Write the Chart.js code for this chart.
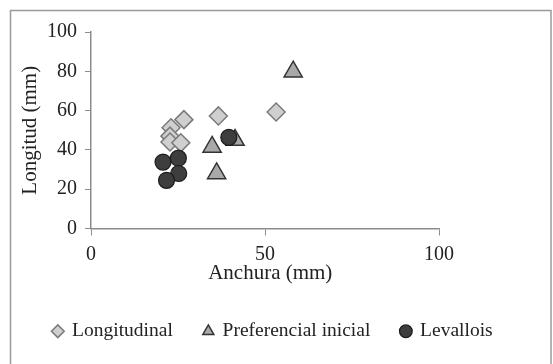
<!DOCTYPE html>
<html>
<head>
<meta charset="utf-8">
<script src="https://cdn.jsdelivr.net/npm/chart.js@4.4.1/dist/chart.umd.min.js"></script>
<style>
  html, body { margin: 0; padding: 0; background: #fff; }
  #wrap { position: relative; width: 553px; height: 364px; }
</style>
</head>
<body>
<div id="wrap"><canvas id="grafico"></canvas></div>
<script>
// datos (Anchura, Longitud en mm)
const longitudinalX = [26.7, 23.0, 22.7, 22.7, 25.8, 36.6, 53.2];
const longitudinalY = [55.4, 51.3, 47.0, 44.0, 43.6, 57.3, 59.3];

const preferencialX = [58.1, 34.8, 36.1, 41.4];
const preferencialY = [79.8, 41.5, 28.0, 45.0];

const levalloisX = [39.6, 20.7, 25.1, 25.2, 21.7];
const levalloisY = [46.4, 33.8, 35.8, 28.0, 24.5];

const ticksX = [0, 50, 100];
const ticksY = [0, 20, 40, 60, 80, 100];

function puntos(xs, ys) {
  return xs.map((x, i) => ({ x: x, y: ys[i] }));
}

const serif = "'Liberation Serif', 'Times New Roman', serif";
const gris = "#8c8c8c";

// marco exterior del gráfico
const marco = {
  id: "marco",
  beforeDraw(chart) {
    const ctx = chart.ctx;
    ctx.save();
    ctx.fillStyle = "#ffffff";
    ctx.fillRect(0, 0, chart.width, chart.height);
    ctx.strokeStyle = "#9a9a9a";
    ctx.lineWidth = 1.5;
    ctx.strokeRect(10.5, 10.5, 540.5, 400);
    ctx.restore();
  },
};

const ctx = document.getElementById("grafico").getContext("2d");
const grafico = new Chart(ctx, {
  type: "scatter",
  data: {
    datasets: [
      {
        label: "Longitudinal",
        data: puntos(longitudinalX, longitudinalY),
        pointStyle: "rectRot",
        pointRadius: 9,
        pointHoverRadius: 9,
        backgroundColor: "#cfcfcf",
        borderColor: "#7a7a7a",
        borderWidth: 1.5,
        order: 2,
      },
      {
        label: "Preferencial inicial",
        data: puntos(preferencialX, preferencialY),
        pointStyle: "triangle",
        pointRadius: 10.5,
        pointHoverRadius: 10.5,
        backgroundColor: "#a9a9a9",
        borderColor: "#333333",
        borderWidth: 1.5,
        order: 1,
      },
      {
        label: "Levallois",
        data: puntos(levalloisX, levalloisY),
        pointStyle: "circle",
        pointRadius: 8,
        pointHoverRadius: 8,
        backgroundColor: "#3e3e3e",
        borderColor: "#1c1c1c",
        borderWidth: 1.2,
        order: 0,
      },
    ],
  },
  options: {
    responsive: true,
    maintainAspectRatio: false,
    animation: false,
    layout: {
      padding: { top: 32, left: 0, right: 7, bottom: 13 },
    },
    plugins: {
      tooltip: { enabled: false },
      legend: {
        position: "bottom",
        labels: {
          usePointStyle: true,
          boxWidth: 9,
          boxHeight: 9,
          padding: 31,
          color: "#222",
          font: { family: serif, size: 19.5 },
          sort: (a, b) => a.datasetIndex - b.datasetIndex,
        },
      },
    },
    scales: {
      x: {
        type: "linear",
        min: 0,
        max: 100,
        afterBuildTicks: (s) => { s.ticks = ticksX.map((v) => ({ value: v })); },
        afterFit: (s) => { s.height = 62; },
        grid: { drawOnChartArea: false, drawTicks: true, tickLength: 7, color: gris },
        border: { display: true, color: gris, width: 1.5 },
        ticks: { color: "#222", padding: 7, font: { family: serif, size: 20 } },
        title: {
          display: true,
          text: "  Anchura (mm)",
          color: "#222",
          padding: { top: 0, bottom: 4 },
          font: { family: serif, size: 21 },
        },
      },
      y: {
        type: "linear",
        min: 0,
        max: 100,
        afterBuildTicks: (s) => { s.ticks = ticksY.map((v) => ({ value: v })); },
        afterFit: (s) => { s.width = 91; },
        grid: { drawOnChartArea: false, drawTicks: true, tickLength: 6, color: gris },
        border: { display: true, color: gris, width: 1.5 },
        ticks: { color: "#222", padding: 8, font: { family: serif, size: 20 } },
        title: {
          display: true,
          text: "Longitud (mm)",
          color: "#222",
          padding: { top: 18, bottom: 0 },
          font: { family: serif, size: 21 },
        },
      },
      // espacio vacío a la derecha del área de trazado
      derecha: {
        type: "linear",
        position: "right",
        display: true,
        afterFit: (s) => { s.width = 107; },
        grid: { display: false },
        border: { display: false },
        ticks: { display: false },
      },
    },
  },
  plugins: [marco],
});
</script>
</body>
</html>
